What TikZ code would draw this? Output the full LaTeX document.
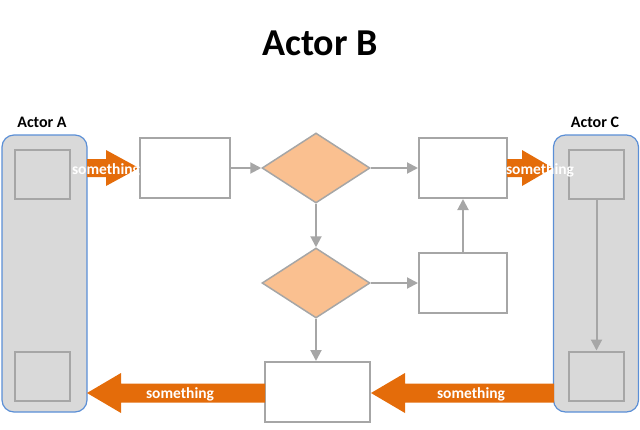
\documentclass[tikz,border=0pt]{standalone}
\usepackage{fontspec}
\setmainfont{Carlito}
\usetikzlibrary{shapes.geometric,arrows.meta}
\definecolor{laneFill}{HTML}{D9D9D9}
\definecolor{laneBlue}{HTML}{5B8FD6}
\definecolor{lineGray}{HTML}{A6A6A6}
\definecolor{orangeA}{HTML}{E46C0A}
\definecolor{diaFill}{HTML}{FAC090}
\begin{document}
\begin{tikzpicture}[x=1pt,y=-1pt,
  lane/.style={draw=laneBlue, fill=laneFill, line width=1.2pt, rounded corners=12pt, minimum width=85, minimum height=277, inner sep=0},
  inbox/.style={draw=lineGray, fill=laneFill, line width=2pt, minimum width=55, minimum height=49, inner sep=0},
  wbox/.style={draw=lineGray, fill=white, line width=2pt, minimum width=90, minimum height=60, inner sep=0},
  dia/.style={diamond, draw=lineGray, fill=diaFill, line width=1.5pt, minimum width=108, minimum height=70, inner sep=0, aspect=1.54},
  flow/.style={draw=lineGray, line width=2pt, -{Triangle[length=11pt,width=11pt]}},
  blk/.style={fill=orangeA},
  lbl/.style={text=white, font=\bfseries\fontsize{15.5}{17}\selectfont, inner sep=0},
  actor/.style={font=\bfseries\fontsize{16}{18}\selectfont, inner sep=0},
  title/.style={font=\bfseries\fontsize{38}{44}\selectfont, inner sep=0}
]
\useasboundingbox (0,0) rectangle (640,429);

\node[title] (t) at (320,43) {Actor B};
\node[actor] (la) at (42,122) {Actor A};
\node[actor] (lc) at (595,122) {Actor C};

\node[lane] (laneA) at (44.5,273.5) {};
\node[lane] (laneC) at (596,273.5) {};
\node[inbox] (aTop) at (42.5,174.5) {};
\node[inbox] (aBot) at (42.5,376) {};
\node[inbox] (cTop) at (596.5,174.5) {};
\node[inbox] (cBot) at (596.5,376) {};

\node[wbox] (box1) at (185,168) {};
\node[dia] (dia1) at (316,168) {};
\node[wbox, minimum width=88] (box2) at (463,168) {};
\node[dia] (dia2) at (316,283) {};
\node[wbox, minimum width=88] (box3) at (463,283) {};
\node[wbox, minimum width=105] (box4) at (317.5,392) {};

\draw[flow] (box1.east) -- (dia1.west);
\draw[flow] (dia1.east) -- (box2.west);
\draw[flow] (dia1.south) -- (dia2.north);
\draw[flow] (dia2.east) -- (box3.west);
\draw[flow] (box3.north) -- (box2.south);
\draw[flow] (dia2.south) -- (dia2.south |- box4.north);
\draw[flow] (cTop.south) -- (cBot.north);

% block arrows
\fill[blk] (87,159) -- (106,159) -- (106,150) -- (139,168) -- (106,186) -- (106,177) -- (87,177) -- cycle;
\fill[blk] (507,159) -- (522,159) -- (522,150) -- (553,168) -- (522,186) -- (522,177) -- (507,177) -- cycle;
\fill[blk] (265,383.5) -- (121,383.5) -- (121,373) -- (87,393) -- (121,413) -- (121,402.5) -- (265,402.5) -- cycle;
\fill[blk] (554,383.5) -- (405,383.5) -- (405,373) -- (371,393) -- (405,413) -- (405,402.5) -- (554,402.5) -- cycle;

\node[lbl] (s1) at (106,170) {something};
\node[lbl] (s2) at (540,170) {something};
\node[lbl] (s3) at (180,394) {something};
\node[lbl] (s4) at (471,394) {something};
\end{tikzpicture}
\end{document}
